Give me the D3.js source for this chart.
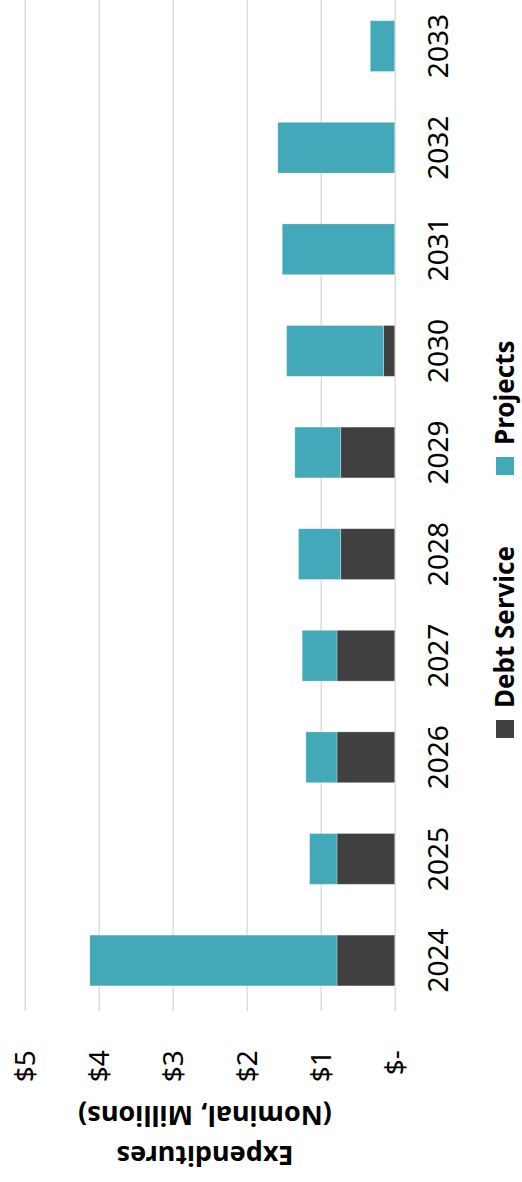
<!DOCTYPE html>
<html>
<head>
<meta charset="utf-8">
<script src="https://cdn.jsdelivr.net/npm/d3@7"></script>
<style>
  body { margin: 0; background: #fff; }
  text { font-family: "Noto Sans", "Open Sans", sans-serif; fill: #000; }
</style>
</head>
<body>
<div id="chart"></div>
<script>
// chart data (millions, nominal)
var years = ["2024", "2025", "2026", "2027", "2028", "2029", "2030", "2031", "2032", "2033"];
var debtService = [0.78, 0.78, 0.78, 0.78, 0.73, 0.73, 0.15, 0, 0, 0];
var projects = [3.34, 0.37, 0.42, 0.47, 0.57, 0.62, 1.31, 1.52, 1.58, 0.33];
var tickValues = [0, 1, 2, 3, 4, 5];
var seriesNames = ["Debt Service", "Projects"];
var seriesColors = ["#404041", "#43a8b8"];

// the picture is a column chart turned a quarter turn, so draw it flat and rotate
var W = 1182, H = 522;

var svg = d3.select("#chart").append("svg")
  .attr("width", H)
  .attr("height", W);

var g = svg.append("g")
  .attr("transform", "translate(0," + W + ") rotate(-90)");

var plotLeft = 170.7, plotRight = 1186.7;

var x = d3.scaleBand()
  .domain(years)
  .range([plotLeft, plotRight])
  .paddingInner(0.5)
  .paddingOuter(0.25);

var y = d3.scaleLinear()
  .domain([0, 5])
  .range([394.7, 24.7]);

// gridlines + value labels
var yAxis = g.append("g")
  .attr("transform", "translate(" + plotLeft + ",0)")
  .call(d3.axisLeft(y)
    .tickValues(tickValues)
    .tickSize(-(W - plotLeft))
    .tickPadding(39)
    .tickFormat(function(d) { return d === 0 ? "$-" : "$" + d; }));
yAxis.select(".domain").remove();
yAxis.selectAll("line").attr("stroke", "#d9d9d9").attr("stroke-width", 1.3);
yAxis.selectAll("text")
  .style("font-size", "28px")
  .attr("dy", "0.36em");

// stacked bars
var rows = years.map(function(yr, i) {
  return { year: yr, debt: debtService[i], projects: projects[i] };
});
var stack = d3.stack().keys(["debt", "projects"]);
var layers = stack(rows);

g.append("g").selectAll("g")
  .data(layers)
  .enter().append("g")
    .attr("fill", function(d, i) { return seriesColors[i]; })
  .selectAll("rect")
  .data(function(d) { return d; })
  .enter().append("rect")
    .attr("x", function(d) { return x(d.data.year); })
    .attr("width", x.bandwidth())
    .attr("y", function(d) { return y(d[1]); })
    .attr("height", function(d) { return y(d[0]) - y(d[1]); })
    .attr("stroke", "#ffffff")
    .attr("stroke-opacity", 0.35)
    .attr("stroke-width", 0.8);

// year labels
var xAxis = g.append("g")
  .attr("transform", "translate(0," + y(0) + ")")
  .call(d3.axisBottom(x).tickSize(0).tickPadding(0));
xAxis.select(".domain").remove();
xAxis.selectAll("text")
  .style("font-size", "28px")
  .attr("y", 53)
  .attr("dy", 0);

// axis title (two lines)
var title = g.append("text")
  .attr("transform", "translate(36,205) rotate(-90)")
  .attr("text-anchor", "middle")
  .style("font-size", "27px")
  .style("font-weight", "bold");
title.append("tspan").attr("x", 0).attr("y", 0).text("Expenditures");
title.append("tspan").attr("x", 0).attr("y", 40).text("(Nominal, Millions)");

// legend
var legendX = [444, 707];
var legend = g.append("g").selectAll("g")
  .data(seriesNames)
  .enter().append("g")
    .attr("transform", function(d, i) { return "translate(" + legendX[i] + ",496)"; });
legend.append("rect")
  .attr("width", 18)
  .attr("height", 18)
  .attr("fill", function(d, i) { return seriesColors[i]; });
legend.append("text")
  .attr("x", 30)
  .attr("y", 18)
  .style("font-size", "26px")
  .style("font-weight", "bold")
  .text(function(d) { return d; });
</script>
</body>
</html>
